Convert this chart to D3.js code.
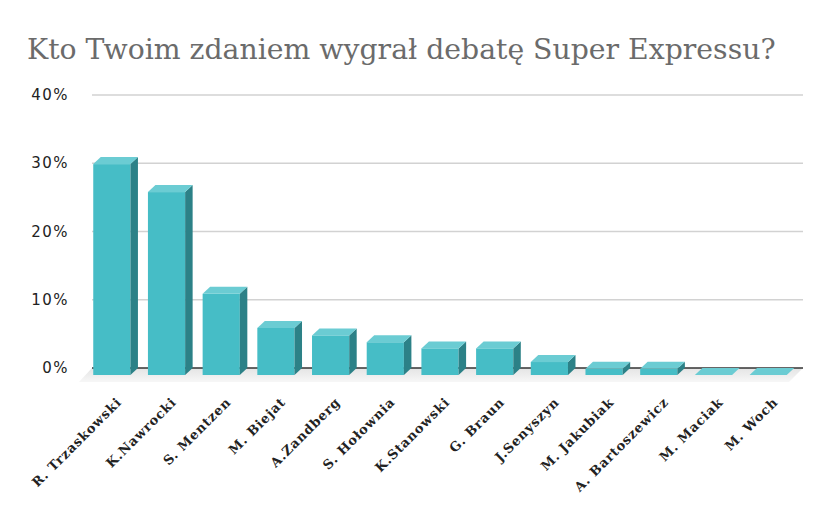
<!DOCTYPE html>
<html>
<head>
<meta charset="utf-8">
<script src="https://cdn.jsdelivr.net/npm/d3@7"></script>
<style>
  body { margin: 0; background: #fff; }
  .title { font-family: "DejaVu Serif", serif; fill: #6b6b6b; }
  .tickLabels { font-family: "DejaVu Sans", sans-serif; font-size: 15px; letter-spacing: 1.5px; fill: #222; }
  .nameLabels { font-family: "DejaVu Serif", serif; font-size: 13px; font-weight: bold; letter-spacing: 0.8px; fill: #222; }
</style>
</head>
<body>
<svg id="chart" width="828" height="512"></svg>
<script>
// data
var candidates = ["R. Trzaskowski", "K.Nawrocki", "S. Mentzen", "M. Biejat", "A.Zandberg",
                  "S. Hołownia", "K.Stanowski", "G. Braun", "J.Senyszyn", "M. Jakubiak",
                  "A. Bartoszewicz", "M. Maciak", "M. Woch"];
var votes = [30.9, 26.8, 11.9, 6.9, 5.8, 4.8, 3.9, 3.9, 1.9, 0.9, 0.9, 0, 0];
var tickValues = [0, 10, 20, 30, 40];
var titleText = "Kto Twoim zdaniem wygrał debatę Super Expressu?";

var svg = d3.select("#chart");

// layout
var wallLeft = 92;
var wallRight = 803;
var wallTop = 95;
var baseY = 368;
var depthX = 7.5; // front face sits left/down of the back wall
var depthY = 7;

var colFront = "#46bdc6";
var colTop = "#6bccd3";
var colSide = "#2c8187";

var xScale = d3.scaleBand()
               .domain(candidates)
               .range([wallLeft, wallRight])
               .paddingInner(0.32)
               .paddingOuter(0.16);

var yScale = d3.scaleLinear()
               .domain([0, 40])
               .range([baseY, wallTop]);

// title
svg.append("text")
   .attr("class", "title")
   .attr("x", 27)
   .attr("y", 59)
   .style("font-size", "28.3px")
   .text(titleText);

// gridlines
svg.selectAll("gridLines")
   .data(tickValues.filter(function(d) { return d > 0; }))
   .enter()
   .append("line")
   .attr("x1", wallLeft)
   .attr("x2", wallRight)
   .attr("y1", function(d) { return yScale(d); })
   .attr("y2", function(d) { return yScale(d); })
   .attr("stroke", "#d2d2d2")
   .attr("stroke-width", 1.5);

// tick labels
svg.selectAll("tickLabels")
   .data(tickValues)
   .enter()
   .append("text")
   .attr("class", "tickLabels")
   .attr("x", 69)
   .attr("y", function(d) { return yScale(d) + 5; })
   .attr("text-anchor", "end")
   .text(function(d) { return d + "%"; });

// floor shadow
var defs = svg.append("defs");
var grad = defs.append("linearGradient")
               .attr("id", "floorGrad")
               .attr("x1", 0).attr("y1", 0).attr("x2", 0).attr("y2", 1);
grad.append("stop").attr("offset", "0%").attr("stop-color", "#e4e4e4");
grad.append("stop").attr("offset", "100%").attr("stop-color", "#f7f7f7");

svg.append("polygon")
   .attr("points", [[wallLeft, baseY], [wallRight, baseY],
                    [wallRight - 14, baseY + 14], [wallLeft - 13, baseY + 14]].join(" "))
   .attr("fill", "url(#floorGrad)");

// baseline
svg.append("line")
   .attr("x1", wallLeft)
   .attr("x2", wallRight)
   .attr("y1", baseY)
   .attr("y2", baseY)
   .attr("stroke", "#333")
   .attr("stroke-width", 1.5);

var bw = xScale.bandwidth();
var bars = svg.selectAll("bars")
   .data(candidates)
   .enter()
   .append("g")
   .attr("class", "bars");

// front face
bars.append("rect")
    .attr("x", function(d) { return xScale(d) - depthX; })
    .attr("y", function(d, i) { return yScale(votes[i]) + depthY; })
    .attr("width", bw)
    .attr("height", function(d, i) { return baseY - yScale(votes[i]); })
    .attr("fill", colFront);

// side face
bars.append("polygon")
    .attr("points", function(d, i) {
      var xb = xScale(d), yt = yScale(votes[i]);
      return [[xb + bw - depthX, yt + depthY], [xb + bw, yt], [xb + bw, baseY],
              [xb + bw - depthX, baseY + depthY]].join(" ");
    })
    .attr("fill", colSide);

// top face
bars.append("polygon")
    .attr("points", function(d, i) {
      var xb = xScale(d), yt = yScale(votes[i]);
      return [[xb - depthX, yt + depthY], [xb, yt], [xb + bw, yt],
              [xb + bw - depthX, yt + depthY]].join(" ");
    })
    .attr("fill", colTop);

// candidate names
svg.selectAll("nameLabels")
   .data(candidates)
   .enter()
   .append("text")
   .attr("class", "nameLabels")
   .attr("text-anchor", "end")
   .attr("transform", function(d) {
     var cx = xScale(d) + bw / 2 + 3;
     return "translate(" + cx + "," + 403 + ") rotate(-45)";
   })
   .text(function(d) { return d; });
</script>
</body>
</html>
